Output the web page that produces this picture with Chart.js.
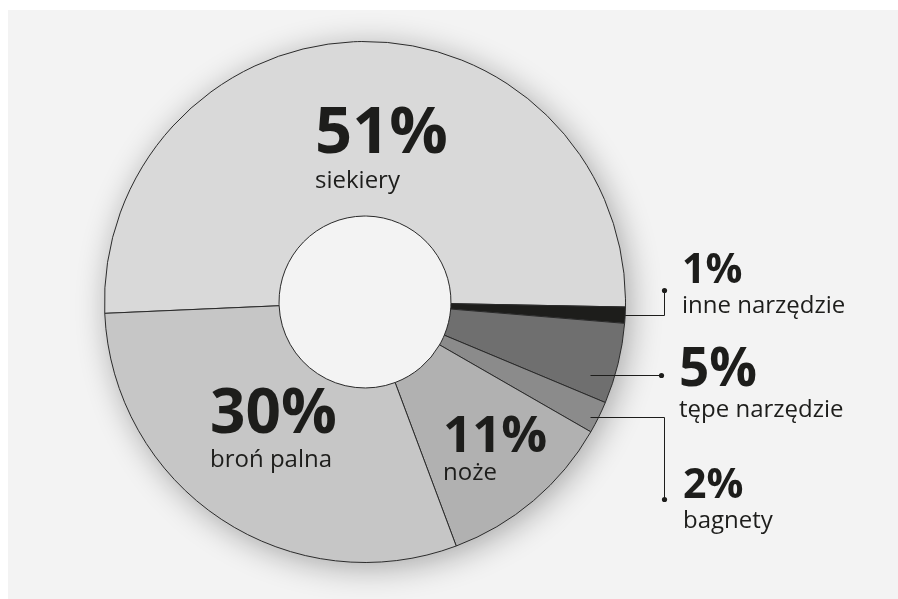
<!DOCTYPE html>
<html>
<head>
<meta charset="utf-8">
<script src="https://cdn.jsdelivr.net/npm/chart.js@4.4.0/dist/chart.umd.min.js"></script>
<style>
  html, body { margin: 0; padding: 0; background: #ffffff; }
  #panel { position: absolute; left: 8px; top: 10px; width: 890px; height: 589px; background: #f3f3f3; }
  #wrap { position: absolute; left: 0; top: 0; width: 898px; height: 599px; }
</style>
</head>
<body>
<div id="panel"></div>
<div id="wrap"><canvas id="chart" width="898" height="599"></canvas></div>
<script>
const categories = ['siekiery', 'inne narzędzie', 'tępe narzędzie', 'bagnety', 'noże', 'broń palna'];
const shares = [51, 1, 5, 2, 11, 30];
const sliceColors = ['#d9d9d9', '#1d1d1b', '#6f6f6f', '#8b8b8b', '#b1b1b1', '#c6c6c6'];

const ink = '#1d1d1b';
const panelBg = '#f3f3f3';

// label placement, relative to the doughnut centre (dx, dy of the percent baseline)
const labelSpots = [
	{ dx: -50, dy: -149, big: 65, gap: 35, lead: null },
	{ dx: 317, dy: -19, big: 41, gap: 30, lead: 'up', shift: 0 },
	{ dx: 314, dy: 84, big: 53, gap: 31, lead: 'flat', shift: 11 },
	{ dx: 318, dy: 196, big: 41, gap: 30, lead: 'down', shift: 0 },
	{ dx: 78, dy: 150, big: 51, gap: 28, lead: null },
	{ dx: -155, dy: 131, big: 62, gap: 34, lead: null },
];

/** @type {HTMLCanvasElement} */
const canvas = document.getElementById('chart');

const shadowPlugin = {
	id: 'ringShadow',
	beforeDatasetsDraw(chart) {
		const arc = chart.getDatasetMeta(0).data[0];
		if (!arc) return;
		const { x, y, outerRadius, innerRadius } = arc.getProps(['x', 'y', 'outerRadius', 'innerRadius'], true);
		const ctx = chart.ctx;
		ctx.save();
		ctx.shadowColor = 'rgba(0,0,0,0.32)';
		ctx.shadowBlur = 32;
		ctx.shadowOffsetX = 4;
		ctx.shadowOffsetY = 5;
		ctx.fillStyle = '#d9d9d9';
		ctx.beginPath();
		ctx.arc(x, y, outerRadius, 0, Math.PI * 2);
		ctx.fill();
		ctx.restore();
		ctx.save();
		ctx.fillStyle = panelBg;
		ctx.beginPath();
		ctx.arc(x, y, innerRadius, 0, Math.PI * 2);
		ctx.fill();
		ctx.restore();
	}
};

const labelPlugin = {
	id: 'pctLabels',
	afterDatasetsDraw(chart) {
		const meta = chart.getDatasetMeta(0);
		const arc0 = meta.data[0];
		const { x: cx, y: cy, outerRadius } = arc0.getProps(['x', 'y', 'outerRadius'], true);
		const ctx = chart.ctx;
		ctx.save();
		ctx.fillStyle = ink;
		ctx.strokeStyle = ink;
		ctx.lineWidth = 1;
		ctx.textAlign = 'left';
		ctx.textBaseline = 'alphabetic';

		labelSpots.forEach((spot, i) => {
			const tx = cx + spot.dx;
			const ty = cy + spot.dy;
			ctx.font = `bold ${spot.big}px "Open Sans"`;
			ctx.fillText(`${shares[i]}%`, tx, ty);
			ctx.font = '24px "Open Sans"';
			ctx.fillText(categories[i], tx, ty + spot.gap);

			if (!spot.lead) return;
			const a = meta.data[i];
			const { startAngle, endAngle } = a.getProps(['startAngle', 'endAngle'], true);
			const mid = (startAngle + endAngle) / 2;
			const lx = cx + outerRadius + 39;
			const sy = Math.round(cy + Math.sin(mid) * outerRadius + spot.shift) + 0.5;
			ctx.beginPath();
			let dotX, dotY;
			if (spot.lead === 'up') {
				const sx = cx + Math.cos(mid) * outerRadius;
				ctx.moveTo(sx, sy);
				ctx.lineTo(lx, sy);
				ctx.lineTo(lx, sy - 25);
				dotX = lx; dotY = sy - 25;
			} else if (spot.lead === 'flat') {
				ctx.moveTo(cx + outerRadius - 35, sy);
				ctx.lineTo(lx - 3, sy);
				dotX = lx - 3; dotY = sy;
			} else {
				ctx.moveTo(cx + outerRadius - 35, sy);
				ctx.lineTo(lx, sy);
				ctx.lineTo(lx, sy + 82);
				dotX = lx; dotY = sy + 82;
			}
			ctx.stroke();
			ctx.beginPath();
			ctx.arc(dotX, dotY, 2.6, 0, Math.PI * 2);
			ctx.fill();
		});
		ctx.restore();
	}
};

const chart = new Chart(canvas, {
	type: 'doughnut',
	data: {
		labels: categories,
		datasets: [{
			data: shares,
			backgroundColor: sliceColors,
			borderColor: '#2a2a2a',
			borderWidth: 1,
		}]
	},
	options: {
		responsive: false,
		animation: false,
		rotation: -92.5,
		cutout: '33%',
		layout: { padding: { left: 104, right: 272, top: 41, bottom: 36 } },
		plugins: {
			legend: { display: false },
			tooltip: { enabled: false },
		}
	},
	plugins: [shadowPlugin, labelPlugin]
});
</script>
</body>
</html>
